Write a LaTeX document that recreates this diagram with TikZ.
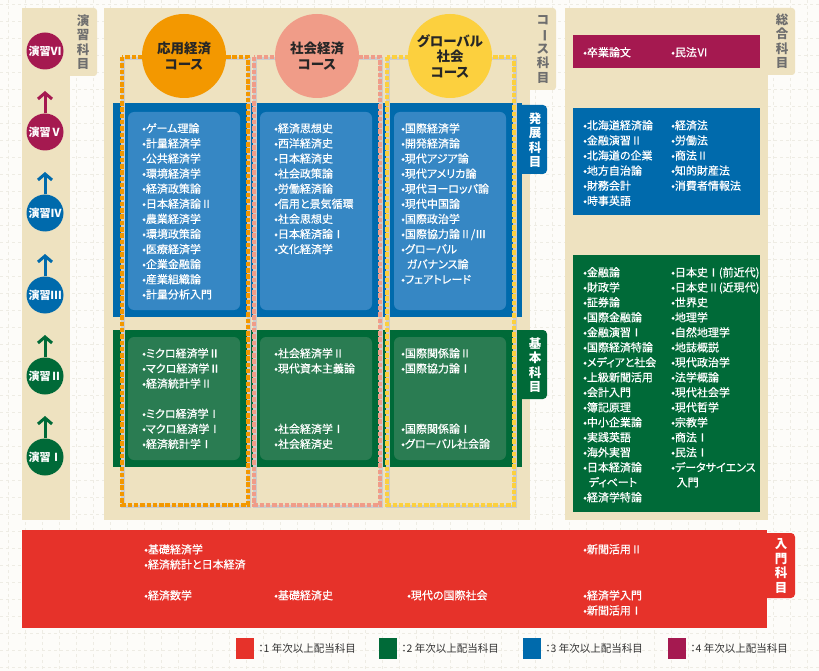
\documentclass[tikz,border=0pt]{standalone}
\usepackage{fontspec}
\setmainfont{Noto Sans CJK JP}[RawFeature={+palt}]
\newfontfamily\itemfont{Noto Sans CJK JP}[RawFeature={+palt}, FakeBold=0.6]
\usetikzlibrary{arrows.meta,calc,positioning}
\definecolor{paper}{RGB}{253,252,249}
\definecolor{gridInk}{RGB}{238,236,228}
\definecolor{panelBeige}{RGB}{238,226,192}
\definecolor{tabGray}{RGB}{110,110,110}
\definecolor{yearOne}{RGB}{230,50,42}
\definecolor{yearTwo}{RGB}{0,106,56}
\definecolor{yearTwoLight}{RGB}{42,124,82}
\definecolor{yearThree}{RGB}{0,106,172}
\definecolor{yearThreeLight}{RGB}{54,135,196}
\definecolor{yearFour}{RGB}{165,25,80}
\definecolor{courseApplied}{RGB}{243,152,0}
\definecolor{courseSocial}{RGB}{240,156,136}
\definecolor{courseGlobal}{RGB}{252,208,62}

\begin{document}
\begin{tikzpicture}[
    x=1pt, y=-1pt,
    >=Latex,
    tablabel/.style={
      font=\fontsize{12.5}{14.5}\selectfont\bfseries,
      text=tabGray,
      align=center,
      inner sep=0pt
    },
    bandlabel/.style={tablabel, text=white},
    item/.style={
      font=\itemfont\fontsize{11}{15.1}\selectfont,
      text=white,
      align=left,
      anchor=north west,
      inner sep=0pt
    },
    course/.style={
      circle,
      minimum size=84pt,
      inner sep=0pt,
      align=center,
      text=black!85,
      font=\fontsize{13.5}{15.5}\selectfont\bfseries
    },
    seminar/.style={
      circle,
      minimum size=37pt,
      inner sep=0pt,
      text=white,
      font=\fontsize{11}{11}\selectfont\bfseries
    },
    upflow/.style={line width=3pt, -{Straight Barb[length=6pt,width=14pt]}},
    coursebox/.style={line width=3.2pt, dash pattern=on 4.5pt off 1.8pt},
    legendbox/.style={minimum width=18pt, minimum height=21pt, inner sep=0pt},
    legendtext/.style={font=\fontsize{10.5}{11}\selectfont, text=black!80, anchor=west, inner sep=0pt}
  ]
    \useasboundingbox (0,0) rectangle (819,671);
    \fill[paper] (0,0) rectangle (819,671);
    % faint grid of the page
    \foreach \gx in {8,25,...,819}
      \draw[gridInk, line width=0.5pt, dashed] (\gx,0) -- (\gx,671);
    \foreach \gy in {4,21,...,671}
      \draw[gridInk, line width=0.5pt, dashed] (0,\gy) -- (819,\gy);

    % beige panels with their tabs
    \fill[panelBeige, rounded corners=3pt] (60,8) rectangle (97,76);
    \fill[panelBeige] (22,8) rectangle (70,520);
    \fill[panelBeige, rounded corners=3pt] (520,8) rectangle (556,90);
    \fill[panelBeige] (104,8) rectangle (530,520);
    \fill[panelBeige, rounded corners=3pt] (755,8) rectangle (795,75);
    \fill[panelBeige] (565,8) rectangle (768,520);

    \node[tablabel] (tabSeminar) at (83,42) {演\\習\\科\\目};
    \node[tablabel] (tabCourse) at (543,49) {コ\\\rotatebox[origin=c]{-90}{ー}\\ス\\科\\目};
    \node[tablabel] (tabGeneral) at (782,41) {総\\合\\科\\目};

    % advanced and basic bands
    \fill[yearThree, rounded corners=4pt] (510,105) rectangle (547,174);
    \fill[yearThree] (113,103) rectangle (522,317);
    \fill[yearTwo, rounded corners=4pt] (510,330) rectangle (547,399);
    \fill[yearTwo] (113,330) rectangle (522,467);
    \node[bandlabel] (tabAdvanced) at (535,140) {発\\展\\科\\目};
    \node[bandlabel] (tabBasic) at (535,365) {基\\本\\科\\目};

    % course frames
    \foreach \lx/\rx/\col in {122/248/courseApplied, 254/380/courseSocial, 387/514/courseGlobal} {
      \draw[line width=3.2pt, black!20] (\lx+1,57+1.2) rectangle (\rx+1,505+1.2);
      \draw[coursebox, \col] (\lx,57) rectangle (\rx,505);
    }

    % inner boxes
    \foreach \lx in {128,260,394} {
      \fill[yearThreeLight, rounded corners=6pt] (\lx,112) rectangle (\lx+112,310);
      \fill[yearTwoLight, rounded corners=6pt] (\lx,337) rectangle (\lx+112,460);
    }

    \node[course, fill=courseApplied] (applied) at (184,56) {応用経済\\コース};
    \node[course, fill=courseSocial] (social) at (317,56) {社会経済\\コース};
    \node[course, fill=courseGlobal] (global) at (450,56) {グローバル\\社会\\コース};

    \node[item] (advApplied) at (142,123) {•ゲーム理論\\•計量経済学\\•公共経済学\\•環境経済学\\•経済政策論\\•日本経済論Ⅱ\\•農業経済学\\•環境政策論\\•医療経済学\\•企業金融論\\•産業組織論\\•計量分析入門};
    \node[item] (advSocial) at (274,123) {•経済思想史\\•西洋経済史\\•日本経済史\\•社会政策論\\•労働経済論\\•信用と景気循環\\•社会思想史\\•日本経済論Ⅰ\\•文化経済学};
    \node[item] (advGlobal) at (401,123) {•国際経済学\\•開発経済論\\•現代アジア論\\•現代アメリカ論\\•現代ヨーロッパ論\\•現代中国論\\•国際政治学\\•国際協力論Ⅱ/Ⅲ\\•グローバル\\\hspace*{0.5em}ガバナンス論\\•フェアトレード};

    \node[item] (basApplied) at (142,348) {•ミクロ経済学Ⅱ\\•マクロ経済学Ⅱ\\•経済統計学Ⅱ\\[15.1pt]•ミクロ経済学Ⅰ\\•マクロ経済学Ⅰ\\•経済統計学Ⅰ};
    \node[item] (basSocial) at (274,348) {•社会経済学Ⅱ\\•現代資本主義論\\[45.3pt]•社会経済学Ⅰ\\•社会経済史};
    \node[item] (basGlobal) at (401,348) {•国際関係論Ⅱ\\•国際協力論Ⅰ\\[45.3pt]•国際関係論Ⅰ\\•グローバル社会論};

    % general subjects
    \fill[yearFour] (573,35) rectangle (760,68);
    \fill[yearThree] (573,108) rectangle (760,215);
    \fill[yearTwo] (573,255) rectangle (760,512);
    \node[item] (senior) at (583,47) {•卒業論文};
    \node[item] (civilSix) at (671,47) {•民法Ⅵ};
    \node[item] (genThreeL) at (583,120) {•北海道経済論\\•金融演習Ⅱ\\•北海道の企業\\•地方自治論\\•財務会計\\•時事英語};
    \node[item] (genThreeR) at (671,120) {•経済法\\•労働法\\•商法Ⅱ\\•知的財産法\\•消費者情報法};
    \node[item, font=\itemfont\fontsize{11}{15}\selectfont] (genTwoL) at (583,267) {•金融論\\•財政学\\•証券論\\•国際金融論\\•金融演習Ⅰ\\•国際経済特論\\•メディアと社会\\•上級新聞活用\\•会計入門\\•簿記原理\\•中小企業論\\•実践英語\\•海外実習\\•日本経済論\\\hspace*{0.5em}ディベート\\•経済学特論};
    \node[item, font=\itemfont\fontsize{11}{15}\selectfont] (genTwoR) at (671,267) {•日本史Ⅰ(前近代)\\•日本史Ⅱ(近現代)\\•世界史\\•地理学\\•自然地理学\\•地誌概説\\•現代政治学\\•法学概論\\•現代社会学\\•現代哲学\\•宗教学\\•商法Ⅰ\\•民法Ⅰ\\•データサイエンス\\\hspace*{0.5em}入門};

    % introductory band
    \fill[yearOne, rounded corners=4pt] (755,533) rectangle (795,598);
    \fill[yearOne] (22,530) rectangle (767,628);
    \node[bandlabel] (tabIntro) at (781,566) {入\\門\\科\\目};
    \node[item] (introA) at (144,544) {•基礎経済学\\•経済統計と日本経済};
    \node[item] (introB) at (144,590) {•経済数学};
    \node[item] (introC) at (274,590) {•基礎経済史};
    \node[item] (introD) at (407,590) {•現代の国際社会};
    \node[item] (introE) at (583,544) {•新聞活用Ⅱ};
    \node[item] (introF) at (583,590) {•経済学入門\\•新聞活用Ⅰ};

    % seminars
    \foreach \n/\yy/\num/\col in {1/457/Ⅰ/yearTwo, 2/376/Ⅱ/yearTwo, 3/295/Ⅲ/yearThree,
                                  4/213/Ⅳ/yearThree, 5/132/Ⅴ/yearFour, 6/51/Ⅵ/yearFour} {
      \coordinate (tip\n) at (45,\yy-41);
      \node[seminar, fill=\col] (sem\n) at (45,\yy) {演習\num};
    }
    \foreach \n/\col in {1/yearTwo, 2/yearTwo, 3/yearThree, 4/yearThree, 5/yearFour}
      \draw[upflow, \col] (sem\n.north) -- (tip\n);

    % legend
    \node[legendbox, fill=yearOne] (lgOne) at (245,648) {};
    \node[legendtext, right=4pt of lgOne] {：1 年次以上配当科目};
    \node[legendbox, fill=yearTwo] (lgTwo) at (388,648) {};
    \node[legendtext, right=4pt of lgTwo] {：2 年次以上配当科目};
    \node[legendbox, fill=yearThree] (lgThree) at (532,648) {};
    \node[legendtext, right=4pt of lgThree] {：3 年次以上配当科目};
    \node[legendbox, fill=yearFour] (lgFour) at (677,648) {};
    \node[legendtext, right=4pt of lgFour] {：4 年次以上配当科目};
  \end{tikzpicture}
\end{document}
